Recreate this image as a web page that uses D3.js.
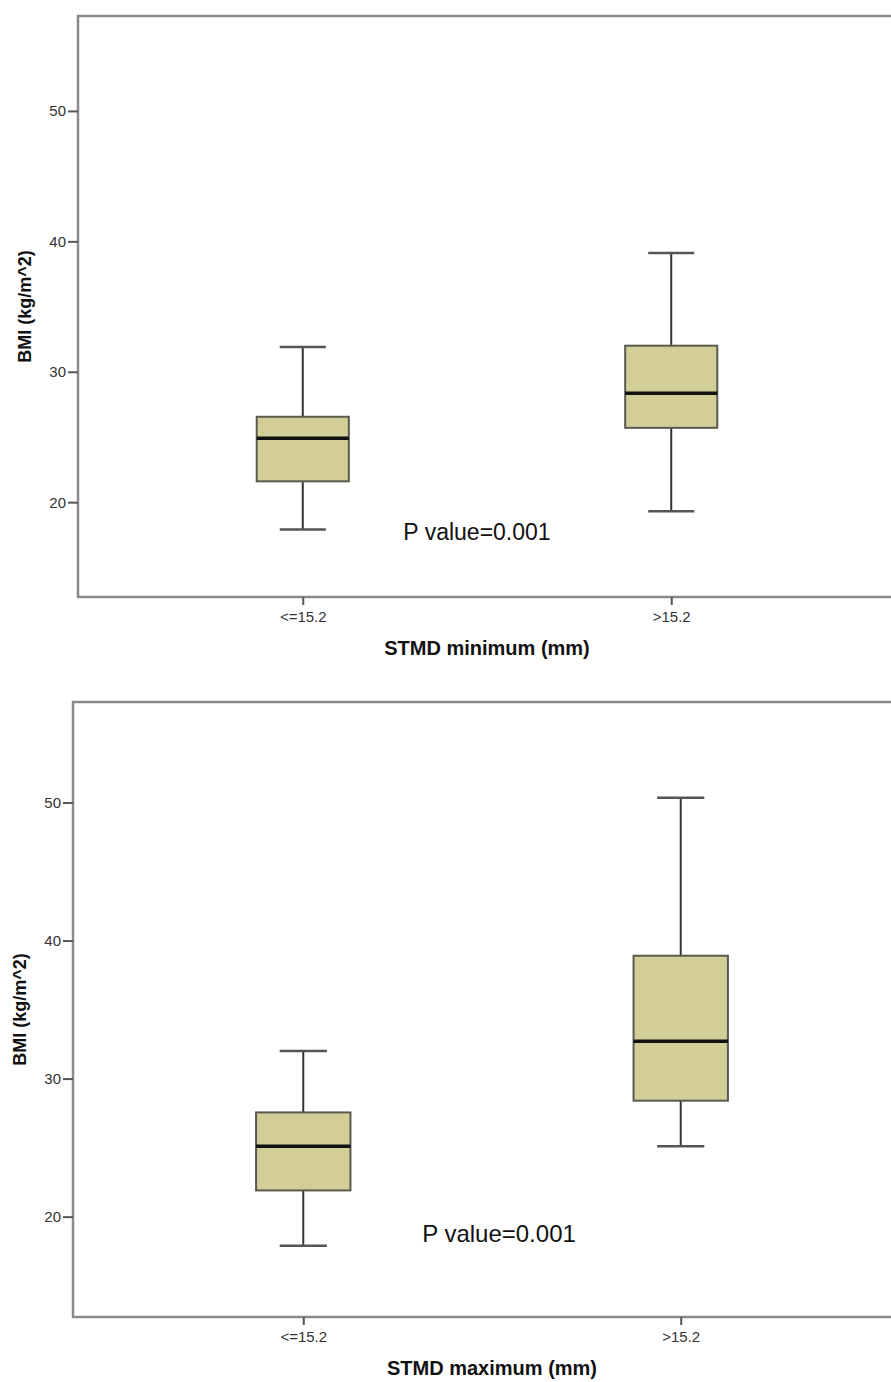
<!DOCTYPE html>
<html>
<head>
<meta charset="utf-8">
<script src="https://cdn.jsdelivr.net/npm/d3@7"></script>
<style>
  body { margin: 0; background: #fff; }
  text { font-family: "Liberation Sans", Arial, sans-serif; }
</style>
</head>
<body>
<svg id="chart" width="891" height="1382"></svg>
<script>
const categories = ["<=15.2", ">15.2"];
// [whisker low, Q1, median, Q3, whisker high]
const minimumStats = [
    [17.9, 21.6, 24.9, 26.55, 31.9],
    [19.3, 25.7, 28.35, 32.0, 39.1]
];
const maximumStats = [
    [17.9, 21.9, 25.1, 27.55, 32.0],
    [25.1, 28.4, 32.7, 38.9, 50.35]
];
const yTicks = [20, 30, 40, 50];
const yDomain = [12.73, 57.28];
const yTitle = "BMI (kg/m^2)";
const xTitles = ["STMD minimum (mm)", "STMD maximum (mm)"];
const pLabel = "P value=0.001";

const svg = d3.select("#chart");

const panels = [
    { stats: minimumStats, title: xTitles[0], left: 78, right: 896, top: 16, bottom: 597, pX: 477, pY: 540, pSize: 23 },
    { stats: maximumStats, title: xTitles[1], left: 73, right: 911, top: 702, bottom: 1317, pX: 499, pY: 1242, pSize: 24 }
];

panels.forEach(p => {
    const g = svg.append("g");

    const x = d3.scalePoint()
        .domain(categories)
        .range([p.left, p.right])
        .padding(0.61);

    const y = d3.scaleLinear()
        .domain(yDomain)
        .range([p.bottom, p.top]);

    const boxW = x.step() * 0.25;

    // frame
    g.append("rect")
        .attr("x", p.left)
        .attr("y", p.top)
        .attr("width", p.right - p.left)
        .attr("height", p.bottom - p.top)
        .attr("fill", "none")
        .attr("stroke", "#8a8a8a")
        .attr("stroke-width", 2.5);

    // y axis
    const yAxis = g.append("g")
        .attr("transform", `translate(${p.left},0)`)
        .call(d3.axisLeft(y).tickValues(yTicks).tickSize(10).tickPadding(2));
    yAxis.select(".domain").remove();
    yAxis.selectAll("line").attr("stroke", "#555").attr("stroke-width", 2);
    yAxis.selectAll("text")
        .attr("font-size", 15)
        .attr("fill", "#333")
        .attr("font-family", "Liberation Sans, Arial, sans-serif");

    // x axis
    const xAxis = g.append("g")
        .attr("transform", `translate(0,${p.bottom})`)
        .call(d3.axisBottom(x).tickSize(8).tickPadding(6));
    xAxis.select(".domain").remove();
    xAxis.selectAll("line").attr("stroke", "#555").attr("stroke-width", 2);
    xAxis.selectAll("text")
        .attr("font-size", 15)
        .attr("fill", "#333")
        .attr("font-family", "Liberation Sans, Arial, sans-serif");

    // boxes
    const boxes = g.selectAll(".box")
        .data(p.stats.map((s, i) => ({ cat: categories[i], s })))
        .enter()
        .append("g")
        .attr("class", "box");

    // whiskers
    boxes.append("line")
        .attr("x1", d => x(d.cat)).attr("x2", d => x(d.cat))
        .attr("y1", d => y(d.s[0])).attr("y2", d => y(d.s[1]))
        .attr("stroke", "#333").attr("stroke-width", 2);
    boxes.append("line")
        .attr("x1", d => x(d.cat)).attr("x2", d => x(d.cat))
        .attr("y1", d => y(d.s[3])).attr("y2", d => y(d.s[4]))
        .attr("stroke", "#333").attr("stroke-width", 2);

    // caps
    [0, 4].forEach(k => {
        boxes.append("line")
            .attr("x1", d => x(d.cat) - boxW / 4).attr("x2", d => x(d.cat) + boxW / 4)
            .attr("y1", d => y(d.s[k])).attr("y2", d => y(d.s[k]))
            .attr("stroke", "#555").attr("stroke-width", 2.5);
    });

    boxes.append("rect")
        .attr("x", d => x(d.cat) - boxW / 2)
        .attr("y", d => y(d.s[3]))
        .attr("width", boxW)
        .attr("height", d => y(d.s[1]) - y(d.s[3]))
        .attr("fill", "#d3ce98")
        .attr("stroke", "#5a5a50")
        .attr("stroke-width", 2);

    // median
    boxes.append("line")
        .attr("x1", d => x(d.cat) - boxW / 2).attr("x2", d => x(d.cat) + boxW / 2)
        .attr("y1", d => y(d.s[2])).attr("y2", d => y(d.s[2]))
        .attr("stroke", "#111").attr("stroke-width", 3.5);

    // titles
    g.append("text")
        .attr("transform", `translate(${p.left - 47},${(p.top + p.bottom) / 2}) rotate(-90)`)
        .attr("text-anchor", "middle")
        .attr("font-size", 18)
        .attr("font-weight", "bold")
        .attr("fill", "#111")
        .text(yTitle);

    g.append("text")
        .attr("x", (p.left + p.right) / 2)
        .attr("y", p.bottom + 58)
        .attr("text-anchor", "middle")
        .attr("font-size", 20)
        .attr("font-weight", "bold")
        .attr("fill", "#111")
        .text(p.title);

    g.append("text")
        .attr("x", p.pX)
        .attr("y", p.pY)
        .attr("text-anchor", "middle")
        .attr("font-size", p.pSize)
        .attr("font-family", "Lato, sans-serif")
        .attr("fill", "#111")
        .text(pLabel);
});
</script>
</body>
</html>
